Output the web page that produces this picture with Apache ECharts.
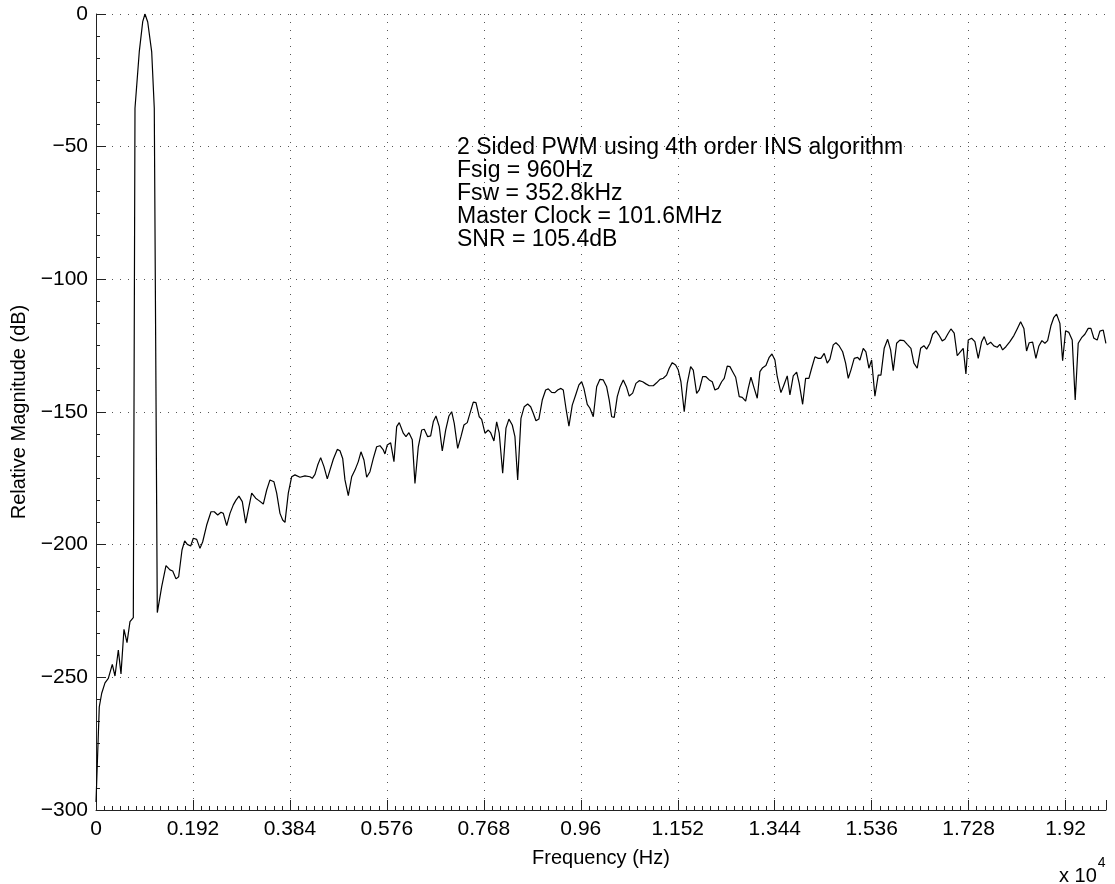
<!DOCTYPE html>
<html>
<head>
<meta charset="utf-8">
<title>PWM spectrum</title>
<script src="https://cdn.jsdelivr.net/npm/echarts@6/dist/echarts.min.js"></script>
<style>
  html, body { margin: 0; padding: 0; background: #fff; }
  #main { width: 1115px; height: 884px; }
</style>
</head>
<body>
<div id="main"></div>
<script>
// frequency points (Hz)
var freqHz = [
  0, 65, 113, 178, 244, 323, 376, 442, 495, 554, 614, 673, 739,
  772, 857, 925, 970, 1024, 1103, 1154, 1214,
  1301, 1386, 1465, 1519, 1584, 1637, 1703, 1756, 1808, 1875, 1927, 1994, 2059, 2113,
  2192, 2277, 2342, 2410, 2475, 2521, 2588, 2653, 2719, 2772, 2831, 2897, 2964, 3016,
  3083, 3162, 3227, 3313, 3380, 3445, 3524, 3578, 3643, 3697, 3742, 3808, 3875, 3940,
  4039, 4138, 4237, 4283, 4336, 4390, 4449, 4514, 4580, 4633, 4699, 4778, 4831, 4885,
  4930, 4996, 5063, 5128, 5194, 5247, 5306, 5360, 5425, 5491, 5558, 5623, 5689, 5722,
  5768, 5835, 5900, 5954, 6005, 6085, 6138, 6197, 6263, 6316, 6382, 6449, 6500, 6568,
  6627, 6679, 6732, 6797, 6857, 6924, 6989, 7043, 7094, 7162, 7227, 7286, 7352, 7405,
  7471, 7524, 7589, 7637, 7702, 7768, 7815, 7880, 7934, 7985, 8053, 8118, 8177, 8243,
  8296, 8350, 8415, 8480, 8548, 8607, 8659, 8712, 8771, 8837, 8904, 8956, 9023, 9088,
  9142, 9207, 9253, 9306, 9365, 9431, 9498, 9563, 9617, 9662, 9728, 9781, 9847, 9914,
  9979, 10045, 10112, 10163, 10211, 10262, 10322, 10375, 10441, 10507, 10559, 10627,
  10692, 10757, 10825, 10890, 10955, 11035, 11101, 11167, 11233, 11299, 11351, 11411,
  11478, 11530, 11583, 11648, 11708, 11775, 11827, 11894, 11945, 12013, 12078, 12143,
  12203, 12256, 12322, 12389, 12440, 12500, 12553, 12607, 12667, 12737, 12797, 12864,
  12916, 12969, 13034, 13094, 13147, 13201, 13266, 13331, 13385, 13444, 13490, 13563,
  13622, 13688, 13741, 13807, 13874, 13925, 13993, 14052, 14117, 14171, 14236, 14302,
  14355, 14420, 14480, 14533, 14599, 14652, 14717, 14785, 14844, 14896, 14949, 15014,
  15082, 15127, 15193, 15246, 15305, 15359, 15424, 15490, 15543, 15608, 15676, 15735,
  15787, 15854, 15919, 15998, 16064, 16137, 16196, 16262, 16329, 16394, 16448, 16513,
  16567, 16632, 16691, 16757, 16810, 16876, 16929, 16994, 17054, 17107, 17173, 17226,
  17272, 17339, 17404, 17470, 17537, 17588, 17648, 17715, 17780, 17846, 17899, 17953,
  18018, 18097, 18176, 18241, 18309, 18374, 18427, 18479, 18547, 18612, 18671, 18731,
  18790, 18844, 18909, 18968, 19021, 19087, 19141, 19200, 19265, 19331, 19390, 19450,
  19517, 19582, 19648, 19701, 19760, 19826, 19879, 19945, 19998
];

// relative magnitude (dB) at each point above
var magDb = [
  -297, -261.1, -256.0, -252.1, -250.4, -245.1, -249.5, -239.7, -248.7, -231.9, -236.9, -229.0, -227.5,
  -35.5, -14.2, -2.9, 0, -3.0, -14.3, -35.4, -225.6,
  -215.8, -207.9, -209.5, -209.9, -212.9, -212.1, -202.0, -198.6, -199.9, -200.5, -197.6, -198.0, -201.4, -198.9,
  -192.6, -187.6, -187.6, -188.8, -187.8, -188.2, -192.8, -188.2, -185.0, -183.2, -181.7, -183.8, -191.9, -186.9,
  -180.6, -182.5, -183.4, -184.7, -179.4, -175.6, -176.3, -180.6, -188.2, -190.7, -191.6, -180.6, -174.4, -173.7,
  -174.6, -174.1, -174.4, -175.0, -173.5, -170.0, -167.2, -170.6, -175.2, -171.9, -167.8, -164.1, -164.6, -167.5,
  -175.6, -181.5, -174.4, -171.9, -168.7, -165.0, -168.1, -174.6, -172.5, -167.5, -163.1, -162.7, -164.3, -165.8,
  -162.4, -161.6, -168.7, -155.5, -154.0, -158.0, -159.3, -157.8, -160.5, -176.9, -163.1, -156.8, -156.5, -159.3,
  -159.0, -153.7, -151.5, -155.5, -164.7, -156.8, -151.5, -149.9, -154.3, -163.7, -159.3, -154.9, -154.0, -150.5,
  -146.3, -146.5, -151.8, -152.8, -158.0, -156.8, -157.8, -160.9, -153.7, -158.0, -173.1, -156.1, -152.7, -154.9,
  -159.3, -175.6, -152.4, -148.0, -147.0, -148.0, -150.5, -153.3, -152.6, -145.5, -141.7, -141.3, -142.6, -142.7,
  -141.7, -141.1, -141.7, -148.6, -155.3, -147.4, -143.6, -139.8, -138.6, -141.1, -147.1, -148.6, -151.8, -140.5,
  -137.7, -137.9, -140.5, -145.5, -151.8, -152.0, -144.2, -140.7, -137.9, -140.7, -144.0, -142.9,
  -139.2, -138.2, -138.6, -139.4, -140.1, -140.1, -139.0, -137.7, -137.3, -136.1, -133.5, -131.4,
  -132.3, -134.2, -138.6, -149.9, -139.2, -132.9, -134.2, -143.0, -141.7, -136.7, -136.7, -137.9,
  -138.6, -141.7, -141.1, -138.6, -137.3, -132.7, -132.9, -134.8, -136.9, -144.2, -144.5, -145.9,
  -141.1, -136.9, -141.1, -144.8, -134.8, -133.3, -132.5, -129.4, -128.1, -130.4, -136.7, -142.7,
  -139.8, -136.4, -143.6, -136.4, -135.0, -139.2, -147.1, -137.3, -137.3, -133.5, -129.2, -129.8,
  -129.8, -127.9, -131.6, -130.1, -124.7, -123.9, -125.1, -127.3, -131.6, -137.3, -134.2, -129.8,
  -129.4, -130.4, -126.0, -127.3, -133.5, -130.4, -144.0, -136.1, -136.1, -126.0, -122.6, -126.6,
  -134.4, -124.1, -122.9, -123.1, -124.5, -126.0, -131.6, -133.5, -126.0, -125.0, -126.3, -124.1,
  -120.7, -119.4, -121.0, -123.2, -122.6, -120.3, -118.7, -120.3, -128.8, -127.5, -126.0, -135.7,
  -122.9, -122.2, -123.5, -129.8, -123.5, -121.6, -124.7, -123.7, -125.1, -125.6, -124.5, -126.6,
  -125.4, -123.5, -121.2, -118.7, -116.0, -118.5, -127.0, -123.9, -123.7, -129.8, -125.1, -123.1,
  -124.1, -123.1, -117.5, -114.3, -113.1, -116.6, -130.7, -119.4, -120.0, -122.9, -145.5, -124.1,
  -122.0, -120.7, -118.5, -118.5, -122.2, -122.9, -119.5, -119.1, -124.1
];

var noteLines = [
  '2 Sided PWM using 4th order INS algorithm',
  'Fsig = 960Hz',
  'Fsw = 352.8kHz',
  'Master Clock = 101.6MHz',
  'SNR = 105.4dB'
];

var chart = echarts.init(document.getElementById('main'));
var font = 'Liberation Sans, Arial, Helvetica, sans-serif';
var axisColor = '#222';
var gridDots = { color: '#555', width: 1, type: [1, 7] };

var option = {
  animation: false,
  backgroundColor: '#fff',
  textStyle: { fontFamily: font },
  grid: { left: 96, top: 14, right: 9, bottom: 74, containLabel: false },
  xAxis: {
    type: 'value',
    min: 0,
    max: 20000,
    interval: 1920,
    name: 'Frequency (Hz)',
    nameLocation: 'middle',
    nameGap: 38,
    nameTextStyle: { fontSize: 20, color: '#000', fontFamily: font },
    axisLine: { show: true, onZero: false, lineStyle: { color: axisColor, width: 1 } },
    axisTick: { show: true, inside: true, length: 10, lineStyle: { color: axisColor } },
    minorTick: { show: true, splitNumber: 12, length: 4, lineStyle: { color: axisColor } },
    axisLabel: {
      fontSize: 21, color: '#000', margin: 9, fontFamily: font,
      showMaxLabel: false,
      formatter: function (v) { return v === 0 ? '0' : String(parseFloat((v / 10000).toFixed(4))); }
    },
    splitLine: { show: true, showMinLine: false, showMaxLine: false, lineStyle: gridDots }
  },
  yAxis: {
    type: 'value',
    min: -300,
    max: 0,
    interval: 50,
    name: 'Relative Magnitude (dB)',
    nameLocation: 'middle',
    nameGap: 64,
    nameTextStyle: { fontSize: 20, color: '#000', fontFamily: font },
    axisLine: { show: true, lineStyle: { color: axisColor, width: 1 } },
    axisTick: { show: true, inside: true, length: 10, lineStyle: { color: axisColor } },
    minorTick: { show: true, splitNumber: 6, length: 4, lineStyle: { color: axisColor } },
    axisLabel: {
      fontSize: 21, color: '#000', margin: 8, fontFamily: font,
      formatter: function (v) { return v < 0 ? '\u2212' + (-v) : String(v); }
    },
    splitLine: { show: true, showMinLine: false, lineStyle: gridDots }
  },
  graphic: [
    {
      type: 'text',
      left: 457,
      top: 136,
      style: {
        text: noteLines.join('\n'),
        font: '23px ' + font,
        lineHeight: 23,
        fill: '#000'
      },
      z: 10
    },
    {
      type: 'text',
      left: 1059,
      top: 856,
      style: {
        text: '{b|x 10}{s|4}',
        rich: {
          b: { fontSize: 20, fontFamily: font, fill: '#000', padding: [10, 0, 0, 0] },
          s: { fontSize: 14, fontFamily: font, fill: '#000', verticalAlign: 'top', padding: [0, 0, 12, 1] }
        }
      }
    }
  ],
  series: [
    {
      type: 'line',
      data: freqHz.map(function (f, i) { return [f, magDb[i]]; }),
      showSymbol: false,
      symbol: 'none',
      smooth: false,
      lineStyle: { color: '#000', width: 1.2 },
      z: 3
    }
  ]
};

chart.setOption(option);
</script>
</body>
</html>
